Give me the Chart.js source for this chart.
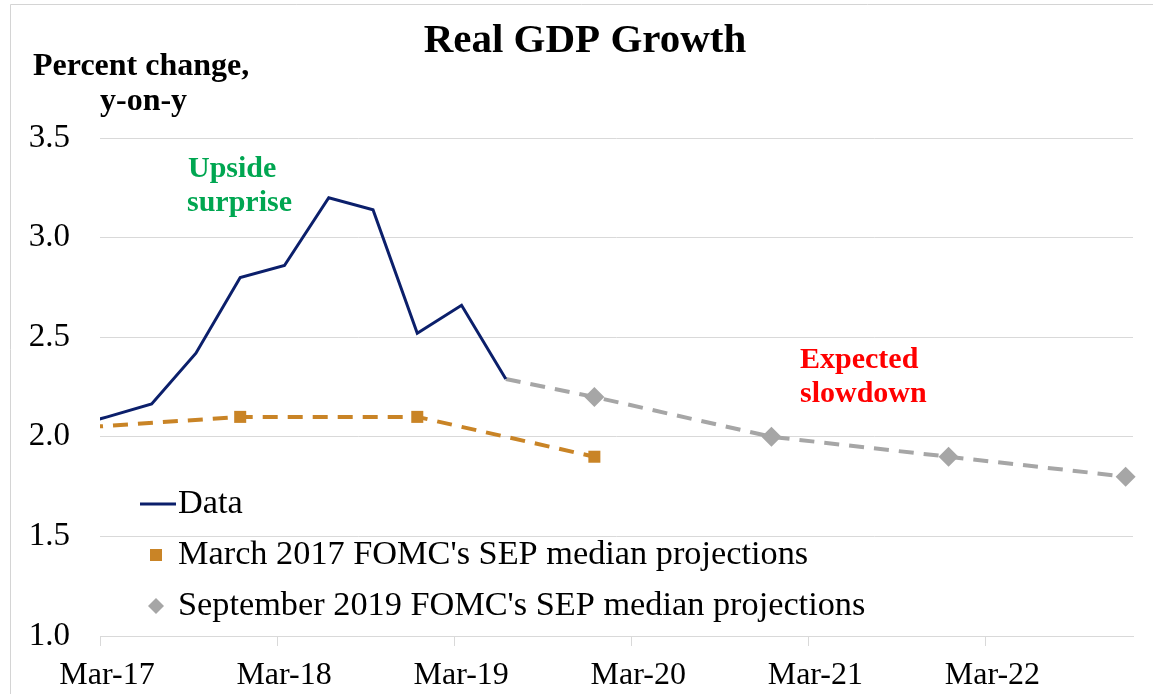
<!DOCTYPE html>
<html>
<head>
<meta charset="utf-8">
<script src="https://cdn.jsdelivr.net/npm/chart.js@4.4.1/dist/chart.umd.min.js"></script>
<style>
html,body{margin:0;padding:0;background:#fff;}
#wrap{width:1153px;height:694px;position:relative;}
</style>
</head>
<body>
<div id="wrap"><canvas id="c"></canvas></div>
<script>
// ---- Data (quarterly, year-on-year % change) ----
const dataQuarters   = ['Dec-16','Mar-17','Jun-17','Sep-17','Dec-17','Mar-18','Jun-18','Sep-18','Dec-18','Mar-19','Jun-19'];
const dataValues     = [2.04, 2.10, 2.165, 2.42, 2.80, 2.86, 3.20, 3.14, 2.52, 2.66, 2.29];

const mar2017Quarters = ['Dec-16','Dec-17','Dec-18','Dec-19'];
const mar2017Values   = [2.04, 2.10, 2.10, 1.90];

const sep2019Quarters = ['Jun-19','Dec-19','Dec-20','Dec-21','Dec-22'];
const sep2019Values   = [2.29, 2.20, 2.00, 1.90, 1.80];

const xTickLabels = ['Mar-17','Mar-18','Mar-19','Mar-20','Mar-21','Mar-22'];
const yTickValues = [1.0, 1.5, 2.0, 2.5, 3.0, 3.5];

const seriesNames = ['Data', "March 2017 FOMC's SEP median projections", "September 2019 FOMC's SEP median projections"];

// months from Mar-17 (mid-quarter-end month)
const MONTHS = {Mar:2, Jun:5, Sep:8, Dec:11};
function toMonths(q){
  const [m, y] = q.split('-');
  return (parseInt(y,10) - 17) * 12 + (MONTHS[m] - 2) + 0.5;
}
function pts(qs, vs){ return qs.map((q,i)=>({x: toMonths(q), y: vs[i]})); }

const NAVY = '#0B1F6B';
const ORANGE = '#C98426';
const GREY = '#A6A6A6';
const SERIF = '"Liberation Serif", "Times New Roman", serif';

const decor = {
  id: 'decor',
  beforeDraw(chart){
    const ctx = chart.ctx;
    ctx.save();
    ctx.fillStyle = '#fff';
    ctx.fillRect(0,0,chart.width,chart.height);
    ctx.strokeStyle = '#d4d4d4';
    ctx.lineWidth = 1;
    ctx.beginPath();
    ctx.moveTo(10.5, chart.height);
    ctx.lineTo(10.5, 4.5);
    ctx.lineTo(chart.width, 4.5);
    ctx.stroke();
    ctx.restore();
  },
  afterDraw(chart){
    const ctx = chart.ctx;
    ctx.save();
    ctx.textBaseline = 'alphabetic';
    // title
    ctx.fillStyle = '#000';
    ctx.font = 'bold 41px ' + SERIF;
    ctx.textAlign = 'center';
    ctx.fillText('Real GDP Growth', 585, 52);
    // axis title
    ctx.font = 'bold 32px ' + SERIF;
    ctx.textAlign = 'left';
    ctx.fillText('Percent change,', 33, 75);
    ctx.fillText('y-on-y', 100, 110);
    // annotations
    ctx.font = 'bold 30px ' + SERIF;
    ctx.fillStyle = '#00A651';
    ctx.fillText('Upside', 188, 177);
    ctx.fillText('surprise', 187, 211);
    ctx.fillStyle = '#FF0000';
    ctx.fillText('Expected', 800, 368);
    ctx.fillText('slowdown', 800, 402);

    // legend
    ctx.font = '34.3px ' + SERIF;
    ctx.fillStyle = '#000';
    ctx.textBaseline = 'middle';
    const lx = 178;
    const rows = [504, 555, 606];
    // Data line
    ctx.strokeStyle = NAVY; ctx.lineWidth = 3;
    ctx.beginPath(); ctx.moveTo(140, rows[0]); ctx.lineTo(176, rows[0]); ctx.stroke();
    ctx.fillText(seriesNames[0], lx, rows[0]);
    // orange square
    ctx.fillStyle = ORANGE;
    ctx.fillRect(150, rows[1]-6, 12, 12);
    ctx.fillStyle = '#000';
    ctx.fillText(seriesNames[1], lx, rows[1]);
    // grey diamond
    ctx.fillStyle = GREY;
    ctx.beginPath();
    ctx.moveTo(156, rows[2]-8); ctx.lineTo(164, rows[2]); ctx.lineTo(156, rows[2]+8); ctx.lineTo(148, rows[2]);
    ctx.closePath(); ctx.fill();
    ctx.fillStyle = '#000';
    ctx.fillText(seriesNames[2], lx, rows[2]);
    ctx.restore();
  }
};

new Chart(document.getElementById('c'), {
  type: 'line',
  data: {
    datasets: [
      {
        label: seriesNames[0],
        data: pts(dataQuarters, dataValues),
        borderColor: NAVY,
        borderWidth: 3,
        pointRadius: 0,
        tension: 0,
        clip: {left: 0, right: false, top: false, bottom: false}
      },
      {
        label: seriesNames[1],
        data: pts(mar2017Quarters, mar2017Values),
        borderColor: ORANGE,
        backgroundColor: ORANGE,
        borderWidth: 4,
        borderDash: [15, 10],
        pointStyle: 'rect',
        pointRadius: mar2017Values.map((v,i)=> i===0 ? 0 : 8.5),
        pointBorderWidth: 0,
        pointBackgroundColor: ORANGE,
        tension: 0,
        clip: {left: 0, right: false, top: false, bottom: false}
      },
      {
        label: seriesNames[2],
        data: pts(sep2019Quarters, sep2019Values),
        borderColor: GREY,
        backgroundColor: GREY,
        borderWidth: 4,
        borderDash: [15, 10],
        pointStyle: 'rectRot',
        pointRadius: sep2019Values.map((v,i)=> i===0 ? 0 : 10),
        pointBorderWidth: 0,
        pointBackgroundColor: GREY,
        tension: 0,
        clip: {left: 0, right: false, top: false, bottom: false}
      }
    ]
  },
  options: {
    responsive: true,
    maintainAspectRatio: false,
    animation: false,
    layout: { padding: { left: 0, right: 20, top: 138, bottom: 0 } },
    plugins: { legend: { display: false }, title: { display: false }, tooltip: { enabled: false } },
    scales: {
      x: {
        type: 'linear',
        min: 0,
        max: 70,
        afterFit(s){ s.height = 58; },
        afterBuildTicks(s){ s.ticks = xTickLabels.map((l,i)=>({value: i*12})); },
        ticks: {
          color: '#000',
          font: { family: SERIF, size: 32 },
          padding: 10,
          labelOffset: 7,
          maxRotation: 0,
          autoSkip: false,
          callback: (v)=> xTickLabels[Math.round(v/12)]
        },
        grid: { drawOnChartArea: false, drawTicks: true, tickLength: 10, color: '#d9d9d9', lineWidth: 1 },
        border: { display: true, color: '#d9d9d9', width: 1 }
      },
      y: {
        min: 1.0,
        max: 3.5,
        afterFit(s){ s.width = 100; },
        afterBuildTicks(s){ s.ticks = yTickValues.map(v=>({value: v})); },
        ticks: {
          color: '#000',
          font: { family: SERIF, size: 33 },
          padding: 30,
          callback: (v)=> Number(v).toFixed(1)
        },
        grid: { drawTicks: false, color: '#d9d9d9', lineWidth: 1 },
        border: { display: false }
      }
    }
  },
  plugins: [decor]
});
</script>
</body>
</html>
